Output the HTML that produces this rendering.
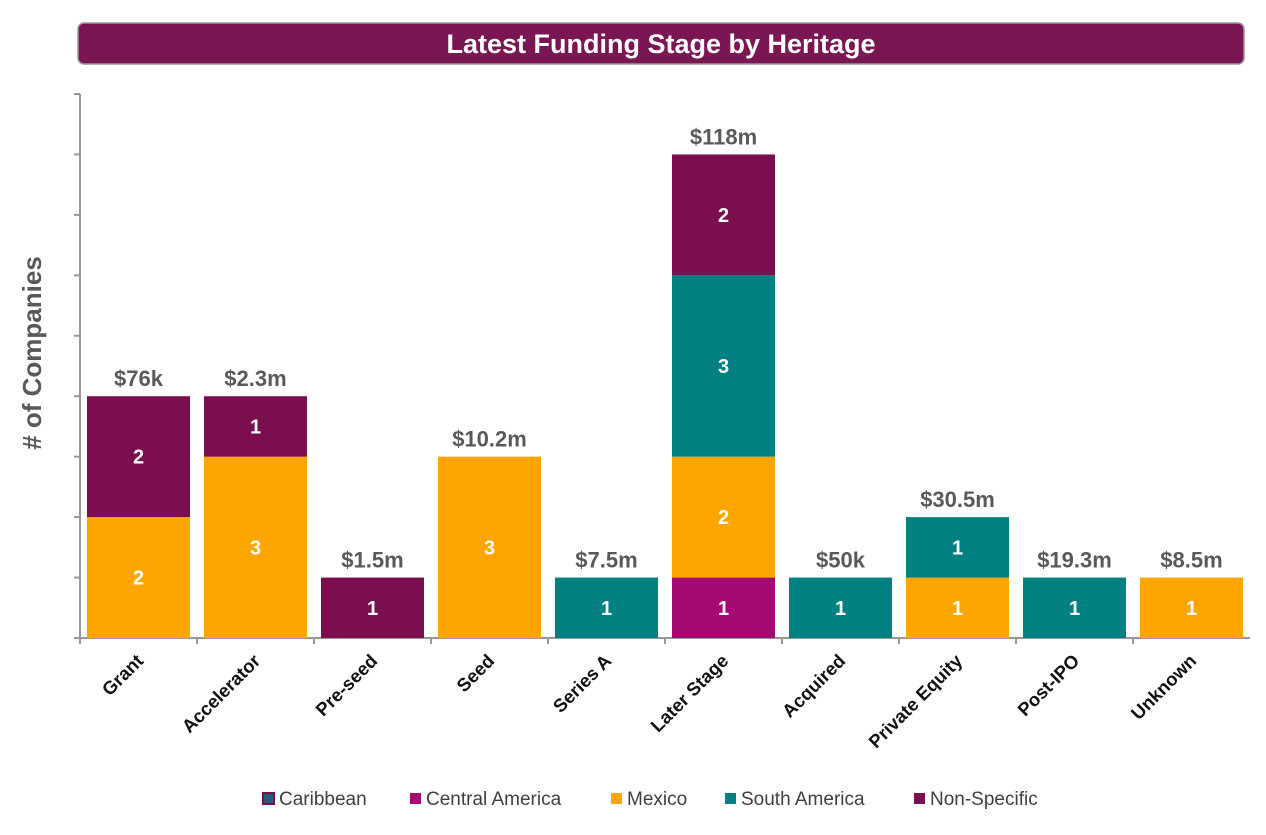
<!DOCTYPE html>
<html><head><meta charset="utf-8"><style>
body{margin:0;background:#fff;width:1266px;height:830px;overflow:hidden;font-family:"Liberation Sans",sans-serif}
</style></head><body>
<svg width="1266" height="830" xmlns="http://www.w3.org/2000/svg">
<rect x="78" y="23" width="1166" height="41" rx="6" fill="#7B1654" stroke="#999" stroke-width="1.5"/>
<text x="661" y="53" text-anchor="middle" font-size="27" font-weight="bold" fill="#fff">Latest Funding Stage by Heritage</text>
<text transform="translate(41,353) rotate(-90)" text-anchor="middle" font-size="26" font-weight="bold" fill="#595959"># of Companies</text>
<g id="plot"></g>
<g id="legend"></g>
</svg>
<script>
const categories=["Grant","Accelerator","Pre-seed","Seed","Series A","Later Stage","Acquired","Private Equity","Post-IPO","Unknown"];
const totals=["$76k","$2.3m","$1.5m","$10.2m","$7.5m","$118m","$50k","$30.5m","$19.3m","$8.5m"];
const seriesNames=["Caribbean","Central America","Mexico","South America","Non-Specific"];
const caribbean=[0,0,0,0,0,0,0,0,0,0];
const centralAmerica=[0,0,0,0,0,1,0,0,0,0];
const mexico=[2,3,0,3,0,2,0,1,0,1];
const southAmerica=[0,0,0,0,1,3,1,1,1,0];
const nonSpecific=[2,1,1,0,0,2,0,0,0,0];
const yMax=9;
const colors=["#7A0E4E","#A50A72","#FFA500","#008080","#7A0E4E"];
const NS="http://www.w3.org/2000/svg";
const x0=80,x1=1250,yb=638,yt=94,cw=(x1-x0)/categories.length;
const ys=v=>yb-(yb-yt)*v/yMax;
const xs=i=>x0+i*cw;
const plot=document.getElementById('plot');
function mk(t,a,p){const e=document.createElementNS(NS,t);for(const k in a)e.setAttribute(k,a[k]);(p||plot).appendChild(e);return e;}
let ax=mk('line',{x1:x0,y1:yt,x2:x0,y2:yb,stroke:'#999','stroke-width':2});


for(let v=0;v<=yMax;v++){let t=mk('line',{x1:x0-6,x2:x0,y1:ys(v),y2:ys(v),stroke:'#999','stroke-width':2});

}
let bx=mk('line',{x1:x0-6,y1:yb,x2:x1,y2:yb,stroke:'#999','stroke-width':2});


const series=[caribbean,centralAmerica,mexico,southAmerica,nonSpecific];
categories.forEach((c,i)=>{
 let t=mk('line',{x1:xs(i),x2:xs(i),y1:yb,y2:yb+6,stroke:'#999','stroke-width':2});
 
 
 let cum=0;const bxl=xs(i)+7,bw=cw-14;
 series.forEach((s,k)=>{const v=s[i];if(!v)return;
  const y=ys(cum+v),h=ys(cum)-y;
  let r=mk('rect',{x:bxl,y:y,width:bw,height:h,fill:colors[k]});
  
  
  let tx=mk('text',{x:bxl+bw/2,y:y+h/2+7,'text-anchor':'middle','font-size':20,'font-weight':'bold',fill:'#fff'});
  tx.textContent=v;
  
  
  cum+=v;});
 let tl=mk('text',{x:bxl+bw/2,y:ys(cum)-10,'text-anchor':'middle','font-size':22,'font-weight':'bold',fill:'#595959'});
 tl.textContent=totals[i];
 
 
 const cx=xs(i)+cw/2+6;
 let xl=mk('text',{x:cx,y:662,'text-anchor':'end','font-size':18.5,'font-weight':'bold',fill:'#111',transform:`rotate(-45 ${cx} 662)`});
 xl.textContent=c;
 
 
});
const leg=document.getElementById('legend');
const lx=[263,410,611,725,914];
seriesNames.forEach((n,k)=>{
 let g=mk('g',{},leg);
 
 
 mk('rect',{x:lx[k],y:793,width:11,height:11,fill:k==0?'#1F5C7A':colors[k],stroke:k==0?'#7A0E4E':'none','stroke-width':2},g);
 let t=mk('text',{x:lx[k]+16,y:805,'font-size':19,fill:'#404040'},g);
 t.textContent=n;
});
</script>
</body></html>
